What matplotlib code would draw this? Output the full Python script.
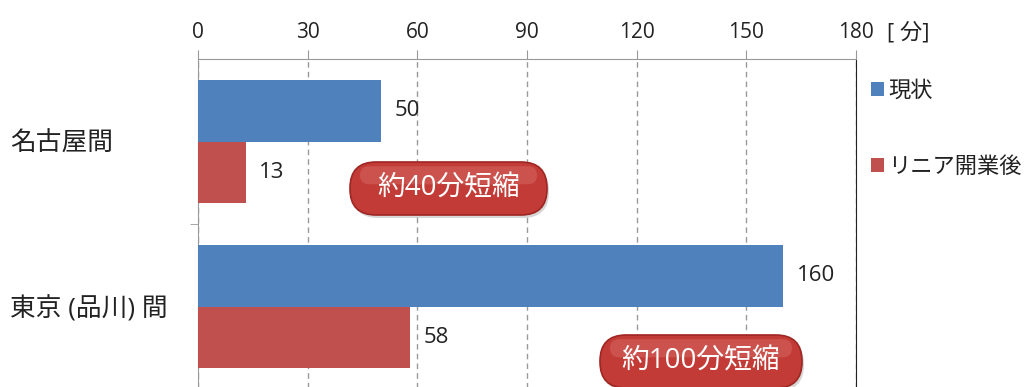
import matplotlib
matplotlib.use("Agg")
import matplotlib.pyplot as plt
from matplotlib.patches import FancyBboxPatch
import numpy as np

# latin glyphs from Open Sans, japanese falls back to Noto CJK
plt.rcParams['font.family'] = ['Open Sans', 'Noto Sans CJK JP']

# data
categories = ['名古屋間', '東京 (品川) 間']
series_names = ['現状', 'リニア開業後']
current = [50, 160]
linear = [13, 58]
x_ticks = [0, 30, 60, 90, 120, 150, 180]
callouts = ['約40分短縮', '約100分短縮']

blue = '#4f81bd'
red = '#c0504d'

fig = plt.figure(figsize=(10.25, 3.87), dpi=100)
ax = fig.add_axes([198 / 1025, -2 / 387, 658 / 1025, 330 / 387])

y = np.arange(len(categories))
h = 0.373
b1 = ax.barh(y - h / 2, current, height=h, color=blue, label=series_names[0], zorder=3)
b2 = ax.barh(y + h / 2, linear, height=h, color=red, label=series_names[1], zorder=3)

for bars, vals in ((b1, current), (b2, linear)):
    for bar, v in zip(bars, vals):
        ax.annotate(str(v), (bar.get_width(), bar.get_y() + bar.get_height() / 2),
                    xytext=(10, 0), textcoords='offset points', va='center', ha='left',
                    fontsize=16, color='#222222')

ax.set_xlim(0, 180)
ax.set_ylim(len(categories) - 0.5, -0.5)
ax.xaxis.tick_top()
ax.set_xticks(x_ticks)
ax.tick_params(axis='x', direction='out', length=6.5, color='#999999', labelsize=15,
               pad=5, labelcolor='#222222')
ax.set_yticks(y)
ax.set_yticklabels(categories, ha='left', fontsize=18.5)
ax.tick_params(axis='y', which='major', length=0, pad=135, labelcolor='#222222')
ax.set_yticks([0.5], minor=True)
ax.tick_params(axis='y', which='minor', length=6, color='#999999', direction='out')

ax.grid(axis='x', color='#999999', linestyle=(0, (4, 3)), linewidth=1, zorder=0)
ax.spines['top'].set_color('#999999')
ax.spines['left'].set_color('#999999')
ax.spines['right'].set_color('#222222')
ax.spines['bottom'].set_visible(False)

fig.text(887 / 1025, 1 - 33 / 387, '[ 分]', fontsize=16, va='center', ha='left', color='#222222')

leg = ax.legend(loc='upper left', bbox_to_anchor=(871 / 1025, 1 - 81 / 387),
                bbox_transform=fig.transFigure, frameon=False, fontsize=16,
                handlelength=0.58, handleheight=0.58, handletextpad=0.2,
                labelspacing=2.45, borderpad=0, borderaxespad=0)
for t in leg.get_texts():
    t.set_color('#222222')

# callout pills (figure inches)
pills = [(3.50, 1.72, 1.97, 0.53), (6.00, -0.01, 2.02, 0.53)]
for (px, py, pw, ph), txt in zip(pills, callouts):
    shadow = FancyBboxPatch((px + 0.02, py - 0.03), pw, ph,
                            boxstyle='round,pad=0,rounding_size=0.26',
                            transform=fig.dpi_scale_trans, facecolor='#999999',
                            edgecolor='none', alpha=0.4)
    fig.add_artist(shadow)
    pill = FancyBboxPatch((px, py), pw, ph, boxstyle='round,pad=0,rounding_size=0.26',
                          transform=fig.dpi_scale_trans, facecolor='#c23b36',
                          edgecolor='#9e2623', linewidth=1.2)
    fig.add_artist(pill)
    hl = FancyBboxPatch((px + 0.1, py + ph * 0.58), pw - 0.2, ph * 0.34,
                        boxstyle='round,pad=0,rounding_size=0.09',
                        transform=fig.dpi_scale_trans, facecolor='#e38a84',
                        edgecolor='none', alpha=0.3)
    fig.add_artist(hl)
    fig.text((px + pw / 2) / 10.25, (py + ph / 2) / 3.87, txt, fontsize=20,
             color='white', ha='center', va='center')

fig.savefig('out.png', dpi=100)
